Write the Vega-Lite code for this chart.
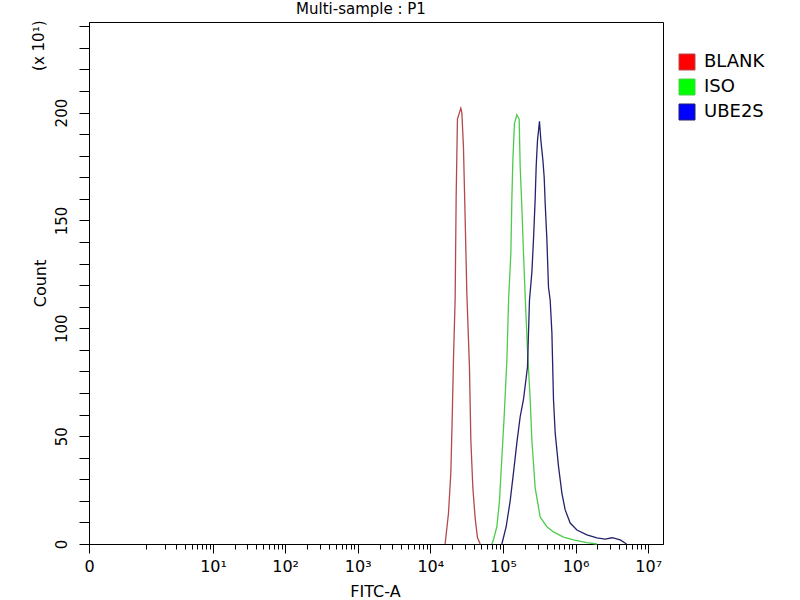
{
  "$schema": "https://vega.github.io/schema/vega-lite/v6.json",
  "width": 574,
  "height": 522,
  "autosize": {"type": "none"},
  "padding": {"left": 89, "top": 22, "right": 137, "bottom": 56},
  "background": "white",
  "title": {"text": "Multi-sample : P1", "font": "DejaVu Sans", "fontSize": 15, "fontWeight": "normal", "color": "black", "anchor": "middle", "dx": -15, "offset": 3},
  "data": {"values": [
    {"s": "BLANK", "x": 16000, "c": 0},
    {"s": "BLANK", "x": 17780, "c": 14},
    {"s": "BLANK", "x": 19190, "c": 33},
    {"s": "BLANK", "x": 20000, "c": 57},
    {"s": "BLANK", "x": 20840, "c": 85},
    {"s": "BLANK", "x": 22000, "c": 114},
    {"s": "BLANK", "x": 22710, "c": 161},
    {"s": "BLANK", "x": 23660, "c": 197},
    {"s": "BLANK", "x": 25210, "c": 200},
    {"s": "BLANK", "x": 26350, "c": 202},
    {"s": "BLANK", "x": 27200, "c": 200},
    {"s": "BLANK", "x": 28620, "c": 184},
    {"s": "BLANK", "x": 30200, "c": 151},
    {"s": "BLANK", "x": 31880, "c": 116},
    {"s": "BLANK", "x": 34620, "c": 82},
    {"s": "BLANK", "x": 36190, "c": 48},
    {"s": "BLANK", "x": 38560, "c": 26},
    {"s": "BLANK", "x": 41470, "c": 12},
    {"s": "BLANK", "x": 44610, "c": 3},
    {"s": "BLANK", "x": 48610, "c": 0},
    {"s": "ISO", "x": 70440, "c": 0},
    {"s": "ISO", "x": 74100, "c": 2},
    {"s": "ISO", "x": 82550, "c": 8},
    {"s": "ISO", "x": 89660, "c": 20},
    {"s": "ISO", "x": 96720, "c": 40},
    {"s": "ISO", "x": 104000, "c": 59},
    {"s": "ISO", "x": 113300, "c": 85},
    {"s": "ISO", "x": 120000, "c": 114},
    {"s": "ISO", "x": 128700, "c": 135},
    {"s": "ISO", "x": 132800, "c": 160},
    {"s": "ISO", "x": 137100, "c": 178},
    {"s": "ISO", "x": 144200, "c": 195},
    {"s": "ISO", "x": 155700, "c": 199},
    {"s": "ISO", "x": 167400, "c": 197},
    {"s": "ISO", "x": 172800, "c": 175},
    {"s": "ISO", "x": 182400, "c": 156},
    {"s": "ISO", "x": 191900, "c": 135},
    {"s": "ISO", "x": 202500, "c": 115},
    {"s": "ISO", "x": 217900, "c": 90},
    {"s": "ISO", "x": 237400, "c": 67},
    {"s": "ISO", "x": 250500, "c": 48},
    {"s": "ISO", "x": 278100, "c": 26},
    {"s": "ISO", "x": 326000, "c": 12.5},
    {"s": "ISO", "x": 403100, "c": 8},
    {"s": "ISO", "x": 497000, "c": 5.6},
    {"s": "ISO", "x": 682300, "c": 3.2},
    {"s": "ISO", "x": 937300, "c": 1.9},
    {"s": "ISO", "x": 1433000, "c": 0.6},
    {"s": "ISO", "x": 1968000, "c": 0},
    {"s": "UBE2S", "x": 96720, "c": 0},
    {"s": "UBE2S", "x": 110900, "c": 8},
    {"s": "UBE2S", "x": 125900, "c": 20},
    {"s": "UBE2S", "x": 139700, "c": 33},
    {"s": "UBE2S", "x": 155700, "c": 47},
    {"s": "UBE2S", "x": 172800, "c": 59},
    {"s": "UBE2S", "x": 191900, "c": 67},
    {"s": "UBE2S", "x": 217900, "c": 82},
    {"s": "UBE2S", "x": 232100, "c": 113},
    {"s": "UBE2S", "x": 250500, "c": 126},
    {"s": "UBE2S", "x": 263500, "c": 141},
    {"s": "UBE2S", "x": 278100, "c": 160},
    {"s": "UBE2S", "x": 287100, "c": 175},
    {"s": "UBE2S", "x": 299200, "c": 187},
    {"s": "UBE2S", "x": 318700, "c": 196},
    {"s": "UBE2S", "x": 333200, "c": 187},
    {"s": "UBE2S", "x": 355000, "c": 178},
    {"s": "UBE2S", "x": 370000, "c": 170},
    {"s": "UBE2S", "x": 381900, "c": 158},
    {"s": "UBE2S", "x": 403100, "c": 141},
    {"s": "UBE2S", "x": 424200, "c": 119},
    {"s": "UBE2S", "x": 447500, "c": 113},
    {"s": "UBE2S", "x": 472400, "c": 98},
    {"s": "UBE2S", "x": 497000, "c": 67},
    {"s": "UBE2S", "x": 524400, "c": 51.5},
    {"s": "UBE2S", "x": 582500, "c": 36},
    {"s": "UBE2S", "x": 648600, "c": 23.6},
    {"s": "UBE2S", "x": 720200, "c": 15.8},
    {"s": "UBE2S", "x": 843900, "c": 9.7},
    {"s": "UBE2S", "x": 1044000, "c": 6.5},
    {"s": "UBE2S", "x": 1433000, "c": 4.2},
    {"s": "UBE2S", "x": 1968000, "c": 2.8},
    {"s": "UBE2S", "x": 2553000, "c": 2.3},
    {"s": "UBE2S", "x": 3200000, "c": 2.9},
    {"s": "UBE2S", "x": 4121000, "c": 1.9},
    {"s": "UBE2S", "x": 5040000, "c": 0}
  ]},
  "layer": [
    {
      "mark": {"type": "line", "strokeWidth": 1.3, "interpolate": "linear"},
      "encoding": {
        "x": {
          "field": "x", "type": "quantitative",
          "scale": {"type": "symlog", "constant": 0.2, "domain": [0, 16000000], "nice": false, "zero": false},
          "axis": {
            "orient": "bottom",
            "values": [0, 10, 100, 1000, 10000, 100000, 1000000, 10000000],
            "labelExpr": "datum.value == 0 ? '0' : datum.value == 10 ? '10¹' : datum.value == 100 ? '10²' : datum.value == 1000 ? '10³' : datum.value == 10000 ? '10⁴' : datum.value == 100000 ? '10⁵' : datum.value == 1000000 ? '10⁶' : '10⁷'",
            "tickSize": 9, "tickColor": "black", "domainColor": "black",
            "labelFont": "DejaVu Sans", "labelFontSize": 16, "labelColor": "black", "labelPadding": 5,
            "labelFlush": false, "labelOverlap": false, "grid": false,
            "title": "FITC-A", "titleFont": "DejaVu Sans", "titleFontSize": 16, "titleFontWeight": "normal", "titleColor": "black",
            "titleX": 286, "titleY": 52, "titleAlign": "center", "titleBaseline": "alphabetic"
          }
        },
        "y": {
          "field": "c", "type": "quantitative",
          "scale": {"domain": [0, 242], "nice": false},
          "axis": {
            "orient": "left",
            "values": [0, 10, 20, 30, 40, 50, 60, 70, 80, 90, 100, 110, 120, 130, 140, 150, 160, 170, 180, 190, 200, 210, 220, 230, 240],
            "labelExpr": "datum.value % 50 == 0 ? datum.label : ''",
            "tickSize": 10, "tickColor": "black", "domainColor": "black",
            "labelFont": "DejaVu Sans", "labelFontSize": 15, "labelColor": "black", "labelPadding": 10,
            "labelAngle": -90, "labelOverlap": false, "grid": false,
            "title": "Count", "titleFont": "DejaVu Sans", "titleFontSize": 16, "titleFontWeight": "normal", "titleColor": "black",
            "titleAngle": 270, "titleX": -49, "titleY": 261, "titleAlign": "center", "titleBaseline": "middle"
          }
        },
        "color": {
          "field": "s", "type": "nominal",
          "scale": {"domain": ["BLANK", "ISO", "UBE2S"], "range": ["#b24a4a", "#4ccb4c", "#23236b"]},
          "legend": {
            "orient": "none", "legendX": 589, "legendY": 31, "title": null, "padding": 0,
            "symbolType": "square", "symbolSize": 256, "symbolOpacity": 1, "symbolStrokeWidth": 1,
            "labelFont": "DejaVu Sans", "labelFontSize": 18, "labelColor": "black", "labelOffset": 8, "rowPadding": 5,
            "encode": {
              "symbols": {"update": {
                "fill": {"signal": "datum.value == 'BLANK' ? '#ff0000' : datum.value == 'ISO' ? '#00ff00' : '#0000ff'"},
                "stroke": {"value": "black"},
                "strokeWidth": {"value": 1},
                "opacity": {"value": 1},
                "fillOpacity": {"value": 1}
              }}
            }
          }
        }
      }
    },
    {
      "transform": [{"filter": "datum.c < 0"}],
      "mark": {"type": "point", "shape": "square", "filled": true},
      "encoding": {
        "x": {
          "field": "x", "type": "quantitative",
          "axis": {
            "orient": "bottom",
            "values": [1, 2, 3, 4, 5, 6, 7, 8, 9, 20, 30, 40, 50, 60, 70, 80, 90, 200, 300, 400, 500, 600, 700, 800, 900, 2000, 3000, 4000, 5000, 6000, 7000, 8000, 9000, 20000, 30000, 40000, 50000, 60000, 70000, 80000, 90000, 200000, 300000, 400000, 500000, 600000, 700000, 800000, 900000, 2000000, 3000000, 4000000, 5000000, 6000000, 7000000, 8000000, 9000000],
            "labels": false, "domain": false, "tickSize": 5, "tickColor": "black", "grid": false, "title": null
          }
        },
        "y": {
          "field": "c", "type": "quantitative",
          "axis": {
            "orient": "right", "labels": false, "ticks": false, "domain": false, "grid": false,
            "title": "(x 10¹)", "titleFont": "DejaVu Sans", "titleFontSize": 15, "titleFontWeight": "normal", "titleColor": "black",
            "titleAngle": 270, "titleX": -625, "titleY": -2, "titleAlign": "right", "titleBaseline": "middle"
          }
        }
      }
    }
  ],
  "resolve": {"axis": {"x": "independent", "y": "independent"}},
  "config": {"view": {"stroke": "black", "strokeWidth": 1}, "font": "DejaVu Sans"}
}
